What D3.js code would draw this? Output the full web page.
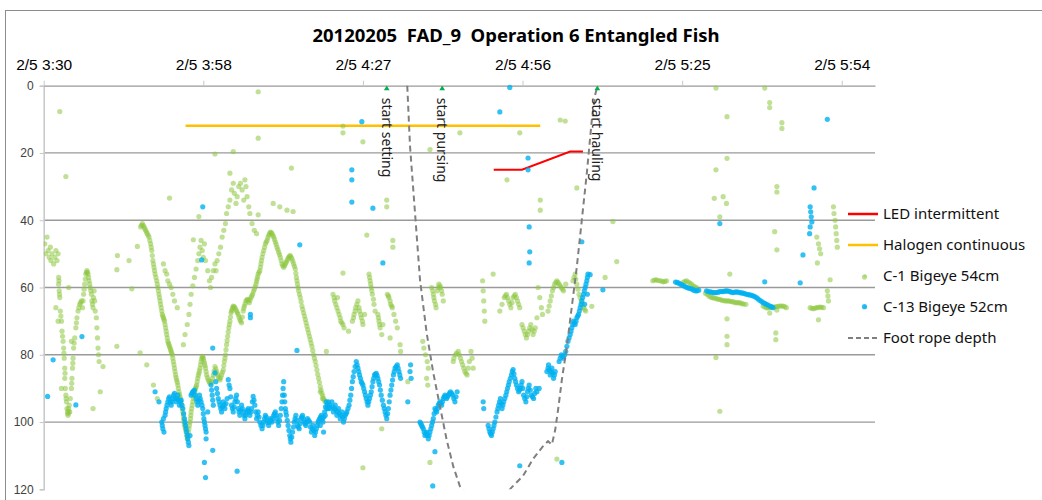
<!DOCTYPE html>
<html>
<head>
<meta charset="utf-8">
<script src="https://cdn.jsdelivr.net/npm/d3@7"></script>
<style>
  body { margin: 0; background: #fff; }
  svg { font-family: "Noto Sans", "Open Sans", sans-serif; }
</style>
</head>
<body>
<div id="chart"></div>
<script>
// time is minutes after 2/5 3:30, depth in metres
const xTickMinutes = [0, 28.8, 57.6, 86.4, 115.2, 144];
const xTickLabels = ["2/5 3:30", "2/5 3:58", "2/5 4:27", "2/5 4:56", "2/5 5:25", "2/5 5:54"];
const yTicks = [0, 20, 40, 60, 80, 100, 120];

const ledLine = [[81.2, 25], [86.3, 25], [95.0, 19.6], [97.3, 19.6]];
const halogenLine = [[25.6, 11.9], [89.6, 11.9]];

const footMinutes = [65.6, 66.1, 67.0, 67.9, 69.1, 70.3, 71.5, 72.7, 73.9, 75.1, 80.0, 84.4, 86.5, 88.3, 90.1, 91.0, 91.7, 92.3, 92.9, 93.5, 94.4, 95.3, 96.2, 97.1, 98.0, 98.9, 99.5, 99.8];
const footDepths = [0, 18, 37.8, 57.7, 73.5, 85.4, 95.3, 105.2, 113.2, 119.1, 128, 119.5, 116, 111, 107.2, 105.7, 106.7, 102.3, 95.3, 87.4, 77.5, 65.6, 53.8, 39.9, 26, 10.2, 2.8, 0.8];

const events = [
  { minute: 61.9, label: "start setting" },
  { minute: 71.9, label: "start pursing" },
  { minute: 99.9, label: "start hauling" }
];

const c1Points = [
  [0.2,47],[0.4,50],[0.6,45],[0.8,49],[1.0,51],[1.2,48],[1.3,52],[1.5,50],[1.8,53],[2.0,51],[2.2,49],[2.4,52],[2.6,50],
  [2.7,57],[2.7,59],[2.8,61],[2.9,63],[3.0,67],[3.2,70],[3.3,73],[3.5,76],[3.6,78],[3.7,81],[3.8,84],[3.8,87],[3.9,90],
  [4.0,92],[4.1,94],[4.2,96],[4.3,97],[4.4,98],[4.5,96],[4.6,95],[4.7,97],[4.8,93],
  [5.0,90],[5.1,87],[5.2,84],[5.3,81],[5.4,78],[5.6,75],[5.8,72],[6.0,69],[6.2,67],[6.5,65],[6.8,64],[7.0,66],[7.2,62],
  [7.4,59],[7.6,56],[7.8,55],[8.0,56],[8.2,58],[8.4,60],[8.6,62],[8.7,64],[8.9,66],[9.0,63],[9.1,61],[9.3,67],[9.5,69],
  [9.6,72],[9.7,75],[9.8,78],[9.9,80],[10.0,82],
  [2.75,58],[2.85,62],[3.1,68.5],[3.4,74.5],[3.65,79.5],[3.85,85.5],[4.05,93],[4.35,97.5],[4.55,97],[5.05,88.5],
  [5.25,82.5],[5.5,76.5],[5.9,70.5],[6.35,66],[6.65,64.5],[7.1,64],[7.3,60.5],[7.5,57.5],[7.7,55.5],[7.9,55.5],[8.1,57],
  [8.3,59],[8.5,61],[8.8,65],[9.2,64],
  [2.9,7.7],[4.0,27],[10.7,83.5],[10.2,91],[8.9,96],[13.2,77.5],[13.2,54.7],[13.3,50.5],[15.4,52],[16.9,47.8],[15.9,60.4],
  [17.4,79.4],[18.6,83],[2.2,66],[3.2,90],[4.5,60],[2.6,70],[5.0,76],
  [17.5,42],[17.8,41],[18.1,42],[18.4,43],[18.7,44],[19.0,45],[19.3,47],[19.5,49],[19.7,52],[19.9,54],[20.1,56],[20.4,58],
  [20.6,60],[20.8,62],[21.0,64],[21.2,66],[21.4,68],[21.6,69],[21.8,70],[22.0,72],[22.2,74],[22.4,76],[22.6,77],[22.8,78],
  [23.0,79],[23.2,80],[23.4,82],[23.6,84],[23.8,86],[24.0,87.5],[24.2,89],[24.4,91],[24.6,92.5],[24.8,94],[25.0,96],
  [25.2,98],[25.3,100],[25.5,101.5],[25.7,103],[25.9,105],[26.1,103],
  [17.65,41.5],[17.95,41.5],[18.25,42.5],[18.55,43.5],[18.85,44.5],[19.15,46],[19.4,48],[19.6,50.5],[19.8,53],[20.0,55],
  [20.25,57],[20.5,59],[20.7,61],[20.9,63],[21.1,65],[21.3,67],[21.5,68.5],[21.7,69.5],[21.9,71],[22.1,73],[22.3,75],
  [22.5,76.5],[22.7,77.5],[22.9,78.5],[23.1,79.5],[23.3,81],[23.5,83],[23.7,85],[23.9,86.8],[24.1,88.2],[24.3,90],
  [24.5,91.8],[24.7,93.2],[24.9,95],[25.1,97],[25.25,99],[25.4,100.8],[25.6,102.2],[25.8,104],[26.0,104.5],
  [26.3,101],[26.5,99],[26.6,97],[26.8,95],[27.0,93],[27.2,91.5],[27.4,90],[27.6,89],[27.8,87],[28.0,85.5],[28.2,84],
  [28.4,82],[28.6,80.5],[28.8,81],[29.0,82.5],[29.2,84],[29.4,86],[29.7,87.5],[30.0,88.5],[30.3,88],[30.6,86],[30.9,83.5],
  [31.2,85],[31.5,86.5],[31.8,87.5],[32.1,86],[32.4,84.5],[32.6,82],[32.8,80],[33.0,77],[33.2,74.5],[33.4,72],[33.6,70],
  [33.8,67.5],[34.0,66.5],[34.2,65.5],[34.5,66],[34.8,67],[35.1,68],[35.4,69.5],[35.7,70.5],[36.0,67],[36.2,65.5],
  [36.5,64],[36.8,63.5],[37.1,64.5],[37.4,63],[37.7,62],[38.0,60.5],[38.3,59],[38.5,57.5],[38.7,56],[39.0,55],[39.2,53],
  [39.4,51],[39.7,49],[40.0,47],[40.3,46],[40.6,44.5],[40.9,43.5],[41.2,44],[41.5,45],[41.8,46.5],[42.1,48],[42.4,49.5],
  [42.7,51],[43.0,53],[43.3,54],[43.6,53],[43.9,52],[44.2,51],[44.5,50.5],[44.8,51.5],[45.1,53],[45.4,54.5],[45.6,57],
  [45.8,59],[46.0,61],[46.3,63],[46.6,65.5],[46.9,67.5],[47.2,69.5],[47.5,71.5],[47.8,73.5],[48.1,75.5],[48.4,77.5],
  [48.7,80],[49.0,82],[49.3,84.5],[49.6,87],[49.9,89.5],[50.2,91.5],[50.5,93],[50.8,94],
  [26.2,102],[26.4,100],[26.55,98],[26.7,96],[26.9,94],[27.1,92.2],[27.3,90.8],[27.5,89.5],[27.7,88],[27.9,86.2],
  [28.1,84.8],[28.3,83],[28.5,81.2],[28.7,80.7],[28.9,81.8],[29.1,83.2],[29.3,85],[29.55,86.8],[29.85,88],[30.15,88.3],
  [30.45,87],[30.75,84.8],[31.05,84.2],[31.35,85.8],[31.65,87],[31.95,86.8],[32.25,85.2],[32.5,83.2],[32.7,81],[32.9,78.5],
  [33.1,75.8],[33.3,73.2],[33.5,71],[33.7,68.8],[33.9,67],[34.1,66],[34.35,65.7],[34.65,66.5],[34.95,67.5],[35.25,68.8],
  [35.55,70],[35.85,68.8],[36.1,66.2],[36.35,64.8],[36.65,63.7],[36.95,64],[37.25,63.7],[37.55,62.5],[37.85,61.2],
  [38.15,59.8],[38.4,58.2],[38.6,56.8],[38.85,55.5],[39.1,54],[39.3,52],[39.55,50],[39.85,48],[40.15,46.5],[40.45,45.2],
  [40.75,44],[41.05,43.7],[41.35,44.5],[41.65,45.7],[41.95,47.2],[42.25,48.7],[42.55,50.2],[42.85,52],[43.15,53.5],
  [43.45,53.5],[43.75,52.5],[44.05,51.5],[44.35,50.7],[44.65,51],[44.95,52.2],[45.25,53.7],[45.5,55.8],[45.7,58],[45.9,60],
  [46.15,62],[46.45,64.2],[46.75,66.5],[47.05,68.5],[47.35,70.5],[47.65,72.5],[47.95,74.5],[48.25,76.5],[48.55,78.7],
  [48.85,81],[49.15,83.2],[49.45,85.8],[49.75,88.2],[50.05,90.5],[50.35,92.2],[50.65,93.5],
  [25.2,77],[25.5,74],[25.9,71],[26.2,68],[26.4,65],[26.6,62],[26.9,59.5],[27.2,57],[27.5,54.5],[27.8,52],[28.0,50],
  [28.2,48],[28.4,46],[28.6,49],[28.8,51],[29.0,47],[29.2,52],[29.6,55],[29.9,58],[30.1,60],[30.3,57],[30.6,55],[30.9,53],
  [31.1,55],[31.3,52],[31.6,50],[31.9,48],[32.2,45],[32.5,43],[32.8,41],[33.0,38],[33.3,36],[33.6,34],[33.9,31],[34.2,29],
  [34.4,32],[34.7,35],[34.9,33],[35.2,30],[35.5,29],[35.8,31],[36.1,34],[36.3,28],[36.5,30],[36.7,33],[37.0,36],[37.2,38],
  [37.6,41],[38.0,43],[38.4,44],
  [21.6,53],[21.9,55],[22.2,56],[22.4,58],[22.7,59],[23.0,60],[23.3,62],[23.6,64],[24.1,66],
  [30.9,20.3],[34.2,19.6],[38.7,1.8],[38.7,15.6],[44.7,24.5],[33.6,26],[22.7,33.4],[28.0,38.9],[27.0,45.8],[41.4,35],
  [42.6,36],[43.9,37],[38.7,38.4],[45.0,37.4],[19.8,89],[20.5,93],
  [51.0,79],[49.9,91],[50.3,93],
  [52.2,62],[52.5,64],[52.9,66],[53.3,68],[53.6,70],[54.0,71],[54.2,72],[53.0,63],
  [52.4,63],[52.7,65],[53.1,67],[53.5,69],[53.8,70.5],
  [55.7,70],[56.0,68],[56.3,66],[56.7,64],[57.0,67],[57.3,69],[57.6,71],[57.9,68],
  [55.9,69],[56.2,67],[56.5,65],[56.9,66],[57.2,68],[57.5,70],
  [58.7,56],[58.9,58],[59.1,60],[59.3,62],[59.6,65],[59.8,67],[58.8,57],[59.0,59],[59.2,61],[59.5,63.5],
  [60.3,68],[60.5,70],[60.7,72],[61.0,74],[61.2,71],[60.4,69],[60.6,71],
  [62.0,62],[62.3,63],[62.6,65],[62.9,66],[63.2,68],[63.5,70],[63.8,72],[62.2,62.5],[62.5,64],[62.8,65.5],
  [64.3,77],[64.4,79],[65.7,88],
  [68.4,76],[68.6,78],[68.9,80],[69.2,82],[69.4,84],[69.1,87],[69.3,89],
  [70.0,60],[70.3,62],[70.5,64],[70.8,66],[71.0,61],[71.3,59],[71.6,60],[71.9,62],[72.1,64],
  [70.2,61],[70.4,63],[70.7,65],[71.2,60],[71.5,59.5],[71.8,61],
  [73.9,82],[74.3,80],[74.8,79],[75.2,81],[75.6,83],[76.0,85],[76.4,86],[76.8,82],[77.1,79],[77.3,81],[77.5,84],
  [74.0,81],[74.5,79.5],[75.0,80],[75.4,82],[75.8,84],[76.2,85.5],[76.6,84],
  [79.2,58],[79.3,61],[79.4,64],[79.5,67],[79.6,70],[81.1,56],
  [82.3,67],[82.7,65],[83.1,63],[83.5,62],[83.9,64],[84.3,66],[84.7,63],[85.1,62],[85.5,64],[85.9,66],
  [83.3,62.5],[83.7,63],[84.1,65],[84.5,64.5],[84.9,62.5],[85.3,63],[85.7,65],
  [86.3,71],[86.7,73],[87.1,75],[87.5,73],[87.9,71],[88.3,74],[88.7,72],[89.0,69],
  [86.5,72],[86.9,74],[87.3,74],[87.7,72],[88.1,72.5],[88.5,73],
  [89.2,60],[89.5,63],[89.8,66],[90.0,68],
  [91.0,67],[91.4,64],[91.8,61],[92.2,59],[92.6,58],[93.0,59],[93.4,60],[93.8,61],[94.2,59],
  [91.2,65.5],[91.6,62.5],[92.0,60],[92.4,58.5],[92.8,58.5],[93.2,59.5],[93.6,60.5],
  [95.5,58],[95.9,56],[96.2,59],[96.6,62],[97.0,64],[97.4,66],[97.8,67],
  [95.7,57],[96.0,57.5],[96.4,60.5],[96.8,63],[97.2,65],[97.6,66.5],
  [54.0,12],[54.0,14],[57.6,16.7],[61.9,34],[61.9,36],[63.0,46],[63.0,48],[58.3,44.4],[69.7,19],[75.1,14],[85.9,14],
  [93.2,10.2],[94.1,10.5],[96.2,30.4],[83.6,28],[89.6,34],[89.6,37],[54.0,55.7],[57.6,113.6],[61.0,102],[69.7,112],
  [92.6,111],[55.0,73],[62.5,75],
  [109.9,58],[110.5,57.7],[111.2,58],[111.8,58.3],[112.4,58],[110.2,57.8],[110.8,57.9],[111.5,58.1],[112.1,58.2],
  [115.4,58.5],[116.0,58],[116.6,58.7],[117.2,59.5],[117.8,60],[115.7,58.2],[116.3,58.4],[116.9,59],[117.5,59.8],
  [119.4,61.7],[120.0,62.5],[120.6,63],[121.2,63.2],[121.8,63.5],[122.4,63.8],[123.0,64],[123.6,64],[124.2,64.2],
  [124.8,64.5],[125.4,64.5],[126.0,64.8],[126.7,65],
  [119.7,62],[120.3,62.8],[120.9,63.1],[121.5,63.4],[122.1,63.6],[122.7,63.9],[123.3,64],[123.9,64.1],[124.5,64.3],
  [125.1,64.5],[125.7,64.6],[126.3,64.9],
  [129.8,65.5],[130.4,66],[131.0,66],[131.6,65.8],[132.2,65.7],[132.8,65.5],[133.4,65.5],[134.0,66],
  [130.1,65.8],[130.7,66.1],[131.3,65.9],[131.9,65.8],[132.5,65.6],[133.1,65.5],[133.7,65.7],
  [138.3,66],[138.9,66.3],[139.5,66],[140.1,65.8],[140.7,66],[138.6,66.2],[139.2,66.1],[139.8,65.9],[140.4,65.9],
  [141.4,61],[141.5,62.5],[141.6,64],[141.9,57.7],
  [139.5,45],[139.8,47],[140.0,48.5],[140.2,50],
  [142.5,36],[142.6,38],[142.8,40],[142.9,42],[143.0,44],[143.1,46],[143.2,48],
  [121.3,0.7],[130.1,0.7],[131.0,5],[131.0,6.5],[133.2,11],[133.2,12.7],[123.3,9.2],[123.3,21.6],[121.3,25],[132.3,30],
  [132.3,31.6],[121.0,33.5],[122.6,33],[123.2,35],[122.0,39],[131.9,43.4],[132.3,48.8],[139.6,52.7],[103.4,52.3],
  [101.3,57],[102.7,40.4],[98.9,65.6],[123.8,56],[123.3,69.3],[123.3,74.5],[123.3,77],[121.3,80.8],[122.0,96.8],
  [132.1,73.5],[132.1,75.5],[131.0,67.6],[139.8,69.6],[148.1,56.9],[132.3,66.7]
];

const c13Points = [
  [1.7,81.5],[0.7,92.4],[5.8,94.9],[6.9,74.6],[28.7,36],[28.5,51.8],[46.2,47.3],[37.3,69],[37.3,68],[30.5,78],[45.7,78.7],
  [20.1,91],[20.8,94],[29.0,112],[29.2,116.5],[34.9,114.6],[30.5,108.4],[29.3,105],
  [21.3,100],[21.5,102],[21.7,103],[21.9,98],[22.1,96],[22.4,94],[22.7,92.5],[23.0,95],[23.3,93],[23.6,91.5],[23.9,94],
  [24.2,92],[24.5,95],[24.8,93.5],[25.1,96],[25.4,99],[25.6,101],[25.8,103],[26.0,105],[26.2,107],[26.4,104],[26.6,92],
  [26.9,91],[27.2,90.5],[27.5,93],[27.8,95],[28.1,92],[28.4,94],[28.7,96],[28.9,99],[29.1,101],[29.3,103],[29.6,97],
  [30.2,89],[30.4,92],[30.6,95],[30.9,85.4],[31.2,90],[31.5,93],[31.8,95],[32.1,97],[32.4,94],[32.7,96],[33.1,93],
  [33.3,87.4],[33.6,90],[33.9,95],[34.2,97],[34.5,94],[34.8,92],[35.1,96],[35.4,98],[35.7,95],[36.0,97],[36.3,99],
  [36.6,97],[36.9,96],[37.2,98],[37.5,96],[37.8,92.4],[38.1,95],[38.4,99],[38.7,97],[39.0,100],[39.4,102],[39.7,100],
  [40.0,98],[40.3,99.5],[40.6,101],[40.9,99],[41.2,100],[41.5,98],[41.8,97],[42.1,99],[42.4,101],[42.7,98],[43.0,94],
  [43.2,90],[43.3,88],[43.4,92],[43.6,96],[43.8,98],[44.1,101],[44.4,104],[44.6,106],[44.9,103],[45.2,100],[45.5,98],
  [45.8,101],[46.1,102],[46.4,99],[46.7,98],[47.0,100],[47.3,101],[47.6,99],[48.0,100],[48.3,103],[48.6,101],[48.9,104],
  [49.2,102],[49.5,100],[49.8,99],[50.1,98],[50.4,100],[50.7,97],[51.0,94],[51.3,96],[51.6,95],
  [21.4,101],[21.6,99],[22.0,97],[22.25,95],[22.55,93],[22.85,94],[23.15,94],[23.45,92],[23.75,93],[24.05,93],[24.35,93.5],
  [24.65,94],[24.95,95],[25.25,97.5],[25.5,100],[25.7,102],[25.9,104],[26.1,106],[26.75,91.5],[27.05,90.8],[27.35,92],
  [27.65,94],[27.95,93.5],[28.25,93],[28.55,95],[28.8,97.5],[29.0,100],[29.2,102],[30.3,90.5],[30.5,93.5],[31.05,88],
  [31.35,91.5],[31.65,94],[31.95,96],[32.25,95.5],[32.55,95],[32.9,94.5],[33.45,89],[33.75,92.5],[34.05,96],[34.35,95.5],
  [34.65,93],[34.95,94],[35.25,97],[35.55,96.5],[35.85,96],[36.15,98],[36.45,98],[36.75,96.5],[37.05,97],[37.35,97],
  [37.65,94],[37.95,93.5],[38.25,97],[38.55,98],[38.85,98.5],[39.2,101],[39.55,101],[39.85,99],[40.15,98.5],[40.45,100.2],
  [40.75,100],[41.05,99.5],[41.35,99],[41.65,97.5],[41.95,98],[42.25,100],[42.55,99.5],[42.85,96],[43.1,92],[43.5,94],
  [43.7,97],[43.95,99.5],[44.25,102.5],[44.5,105],[44.75,104.5],[45.05,101.5],[45.35,99],[45.65,99.5],[45.95,101.5],
  [46.25,100.5],[46.55,98.5],[46.85,99],[47.15,100.5],[47.45,100],[47.8,99.5],[48.15,101.5],[48.45,102],[48.75,102.5],
  [49.05,103],[49.35,101],[49.65,99.5],[49.95,98.5],[50.25,99],[50.55,98.5],[50.85,95.5],[51.15,95],[51.45,95.5],
  [49.9,101],[50.2,99],[50.5,103],[50.8,98],[51.1,96],[51.4,94],[51.7,96],[52.0,94],[52.3,97],[52.6,95],[52.9,98],
  [53.2,96],[53.5,99],[53.8,97],[54.1,100],[54.4,98],[54.7,97],[55.1,95],[55.4,92],[55.7,88],[56.0,85],[56.4,82],
  [56.7,84],[57.0,86],[57.3,88],[57.6,89],[57.9,91],[58.2,93],[58.5,95],[58.8,93],[59.1,91],[59.4,88],[59.7,86],
  [60.0,85.5],[60.3,87],[60.6,89],[60.9,92],[61.3,95],[61.6,97],[61.9,99],[62.2,96],[62.5,92],[62.8,89],[63.1,86],
  [63.4,84],[63.8,83],[64.1,85],[64.4,87],[65.7,94],[66.1,85],[66.2,83],[66.3,87],
  [52.15,95.5],[52.45,96],[52.75,96.5],[53.05,97],[53.35,97.5],[53.65,98],[53.95,98.5],[54.25,99],[54.55,97.5],[54.9,96],
  [55.25,93.5],[55.55,90],[55.85,86.5],[56.2,83.5],[56.55,83],[56.85,85],[57.15,87],[57.45,88.5],[57.75,90],[58.05,92],
  [58.35,94],[58.65,94],[58.95,92],[59.25,89.5],[59.55,87],[59.85,85.8],[60.15,86.2],[60.45,88],[60.75,90.5],[61.1,93.5],
  [61.45,96],[61.75,98],[62.05,97.5],[62.35,94],[62.65,90.5],[62.95,87.5],[63.25,85],[63.6,83.5],[63.95,84],[64.25,86],
  [67.9,100],[68.2,101],[68.5,102],[68.8,104],[69.1,103],[69.4,105],[69.7,103],[70.0,101],[70.3,99],[70.6,96],[70.9,97],
  [71.2,95],[71.5,94],[71.8,95],[72.1,93],[72.4,92],[72.7,93],[73.0,92],[73.4,91],[73.8,92],[74.2,94],[74.6,91],
  [68.05,100.5],[68.35,101.5],[68.65,103],[68.95,103.5],[69.25,104],[69.55,104],[69.85,102],[70.15,100],[70.45,97.5],
  [70.75,96.5],[71.05,96],[71.35,94.5],[71.65,94.5],[71.95,94],[72.25,92.5],[72.55,92.5],[72.85,92.5],[73.2,91.5],
  [73.6,91.5],[74.0,93],[74.4,92.5],
  [79.3,94],[79.4,96],[80.2,101],[80.5,103],[80.8,104],[81.1,102],[81.4,100],[81.8,97],[82.1,95],[82.4,93],[82.7,96],
  [83.0,94],[83.4,92],[83.7,90],[84.0,88],[84.4,86],[84.7,84.4],[85.0,87],[85.3,89],[85.7,91],[86.0,90],[86.3,88],
  [86.6,92],[87.0,94],[87.3,91],[87.6,89],[88.0,92],[88.4,93],[88.8,90],
  [80.35,102],[80.65,103.5],[80.95,103],[81.25,101],[81.6,98.5],[81.95,96],[82.25,94],[82.55,94.5],[82.85,95],[83.2,93],
  [83.55,91],[83.85,89],[84.2,87],[84.55,85],[84.85,85.7],[85.15,88],[85.5,90],[85.85,90.5],[86.15,89],[86.45,90],
  [86.8,93],[87.15,92.5],[87.45,90],[87.8,90.5],[88.2,92.5],[88.6,91.5],[89.0,91],[89.4,90],
  [90.8,85],[91.1,83],[91.4,86],[91.7,84],[92.0,87],[92.3,85],[93.0,82],[93.4,80],[93.8,81],[94.2,79],
  [91.0,84],[91.25,84.5],[91.55,85],[91.85,85.5],[92.15,86],[93.2,81],[93.6,80.5],[94.0,80],
  [94.6,76],[95.0,74],[95.3,72],[95.6,70],[95.9,71],[96.2,69],[96.5,68],[96.8,66],[97.1,64],[97.4,62],[97.7,60],
  [98.0,58],[98.2,56],[98.1,62],[97.6,65],
  [94.4,77.5],[94.8,75],[95.15,73],[95.45,71],[95.75,70.5],[96.05,70],[96.35,68.5],[96.65,67],[96.95,65],[97.25,63],
  [97.55,61],[97.85,59],[98.1,57],
  [57.4,10.7],[55.6,25],[55.6,28],[55.6,34.6],[59.4,36.4],[61.2,52.7],[82.3,7.8],[84.1,0.5],[87.4,21.5],[87.4,25],
  [87.6,42],[87.7,49.4],[87.6,52.7],[70.6,108.8],[70.2,119],[85.9,113],[93.5,112],[97.1,46.4],[100.9,60.7],
  [114.0,58.4],[114.6,58.7],[115.2,59.2],[115.8,59.8],[116.4,60.2],[117.0,60.5],[117.6,61],[118.2,60.8],
  [114.3,58.5],[114.9,59],[115.5,59.5],[116.1,60],[116.7,60.3],[117.3,60.8],[117.9,61],
  [119.6,61],[120.2,61.3],[120.8,61.5],[121.4,61.5],[122.0,61.2],[122.6,61.2],[123.2,61],[123.8,61.2],[124.4,61.5],
  [125.0,61.3],[125.6,61.5],[126.2,61.7],[126.8,62],[127.4,62.2],[128.0,62.5],
  [119.9,61.2],[120.5,61.4],[121.1,61.5],[121.7,61.4],[122.3,61.2],[122.9,61.1],[123.5,61.1],[124.1,61.4],[124.7,61.4],
  [125.3,61.4],[125.9,61.6],[126.5,61.8],[127.1,62.1],[127.7,62.3],
  [128.6,63],[129.2,63.8],[129.8,64.5],[130.4,65],[131.0,65.5],[131.6,66],
  [128.3,62.7],[128.9,63.4],[129.5,64.1],[130.1,64.7],[130.7,65.2],[131.3,65.7],
  [138.3,36],[138.4,37.5],[138.5,39],[138.6,40.5],[138.3,42],[138.2,44],[137.0,50.3],[139.0,30.4],[141.4,10],
  [136.5,58.6],[130.1,58.3],[122.0,41],[98.6,56.2],[148.1,65.7]
];

const legendItems = [
  { name: "LED intermittent", kind: "line", color: "#FF0000" },
  { name: "Halogen continuous", kind: "line", color: "#FFC000" },
  { name: "C-1 Bigeye 54cm", kind: "dot", color: "#92D050" },
  { name: "C-13 Bigeye 52cm", kind: "dot", color: "#00B0F0" },
  { name: "Foot rope depth", kind: "dash", color: "#7F7F7F" }
];

const width = 1042, height = 500;
const plot = { left: 43.7, right: 875, top: 85.7, bottom: 489.3 };

const svg = d3.select("#chart").append("svg")
  .attr("width", width)
  .attr("height", height);

// outer chart frame
svg.append("rect")
  .attr("x", 5.5).attr("y", 10.5)
  .attr("width", 1100).attr("height", 600)
  .attr("fill", "none")
  .attr("stroke", "#8c8c8c");

svg.append("text")
  .attr("x", 516).attr("y", 42)
  .attr("text-anchor", "middle")
  .style("font-size", "18.5px")
  .style("font-weight", "bold")
  .style("white-space", "pre")
  .attr("fill", "#000")
  .text("20120205  FAD_9  Operation 6 Entangled Fish");

const x = d3.scaleLinear().domain([0, 150]).range([plot.left, plot.right]);
const y = d3.scaleLinear().domain([0, 120]).range([plot.top, plot.bottom]);

// horizontal gridlines
svg.append("g")
  .selectAll("line")
  .data(yTicks.filter(d => d > 0 && d < 120))
  .enter()
  .append("line")
  .attr("x1", plot.left).attr("x2", plot.right)
  .attr("y1", d => y(d)).attr("y2", d => y(d))
  .attr("stroke", "#9a9a9a")
  .attr("stroke-width", 1.3);

// left axis
const yAxis = svg.append("g")
  .attr("transform", `translate(${plot.left},0)`)
  .call(d3.axisLeft(y).tickValues(yTicks).tickSize(4).tickPadding(6));
yAxis.select(".domain").attr("stroke", "#c8c8c8").attr("stroke-width", 1.5);
yAxis.selectAll(".tick line").attr("stroke", "#c8c8c8");
yAxis.selectAll("text")
  .style("font-size", "12px")
  .attr("fill", "#404040");

// top time axis
const xAxis = svg.append("g")
  .attr("transform", `translate(0,${plot.top})`)
  .call(d3.axisTop(x)
    .tickValues(xTickMinutes)
    .tickFormat((d, i) => xTickLabels[i])
    .tickSize(5)
    .tickPadding(11)
    .tickSizeOuter(0));
xAxis.select(".domain").attr("stroke", "#9a9a9a").attr("stroke-width", 1.3);
xAxis.selectAll(".tick line").attr("stroke", "#c8c8c8");
xAxis.selectAll("text")
  .style("font-size", "15.5px")
  .attr("fill", "#000");

svg.append("clipPath").attr("id", "plotClip")
  .append("rect")
  .attr("x", plot.left).attr("y", plot.top - 4)
  .attr("width", plot.right - plot.left)
  .attr("height", plot.bottom - plot.top + 4);

const data = svg.append("g").attr("clip-path", "url(#plotClip)");
const line = d3.line().x(d => x(d[0])).y(d => y(d[1]));

data.append("path")
  .attr("d", line(ledLine))
  .attr("fill", "none")
  .attr("stroke", "#FF0000")
  .attr("stroke-width", 2);

data.append("path")
  .attr("d", line(halogenLine))
  .attr("fill", "none")
  .attr("stroke", "#FFC000")
  .attr("stroke-width", 2.5);

data.append("g")
  .selectAll("circle")
  .data(c1Points)
  .enter()
  .append("circle")
  .attr("cx", d => x(d[0]))
  .attr("cy", d => y(d[1]))
  .attr("r", 2.6)
  .attr("fill", "#8CC63F")
  .attr("fill-opacity", 0.55);

data.append("g")
  .selectAll("circle")
  .data(c13Points)
  .enter()
  .append("circle")
  .attr("cx", d => x(d[0]))
  .attr("cy", d => y(d[1]))
  .attr("r", 2.6)
  .attr("fill", "#00B0F0")
  .attr("fill-opacity", 0.8);

const footRope = footMinutes.map((m, i) => [m, footDepths[i]]);
data.append("path")
  .attr("d", line(footRope))
  .attr("fill", "none")
  .attr("stroke", "#7F7F7F")
  .attr("stroke-width", 2)
  .attr("stroke-dasharray", "6,4");

// event markers with vertical labels
const ev = svg.append("g")
  .selectAll("g")
  .data(events)
  .enter()
  .append("g")
  .attr("transform", d => `translate(${x(d.minute)},${y(0)})`);
ev.append("path")
  .attr("d", d3.symbol().type(d3.symbolTriangle).size(14))
  .attr("transform", "translate(0,3)")
  .attr("fill", "#00B050");
ev.append("text")
  .attr("transform", "translate(0,12) rotate(90)")
  .attr("dy", "0.35em")
  .style("font-size", "14px")
  .attr("fill", "#222")
  .text(d => d.label);

// legend
const legend = svg.append("g")
  .selectAll("g")
  .data(legendItems)
  .enter()
  .append("g")
  .attr("transform", (d, i) => `translate(848,${214 + i * 31})`);
legend.filter(d => d.kind !== "dot")
  .append("line")
  .attr("x1", 0).attr("x2", 30)
  .attr("stroke", d => d.color)
  .attr("stroke-width", d => d.kind === "dash" ? 2 : 2.5)
  .attr("stroke-dasharray", d => d.kind === "dash" ? "5,3" : null);
legend.filter(d => d.kind === "dot")
  .append("circle")
  .attr("cx", 17)
  .attr("r", 1.8)
  .attr("fill", d => d.color)
  .attr("fill-opacity", 0.5);
legend.append("text")
  .attr("x", 35)
  .attr("dy", "0.35em")
  .style("font-size", "15px")
  .attr("fill", "#111")
  .text(d => d.name);
</script>
</body>
</html>
